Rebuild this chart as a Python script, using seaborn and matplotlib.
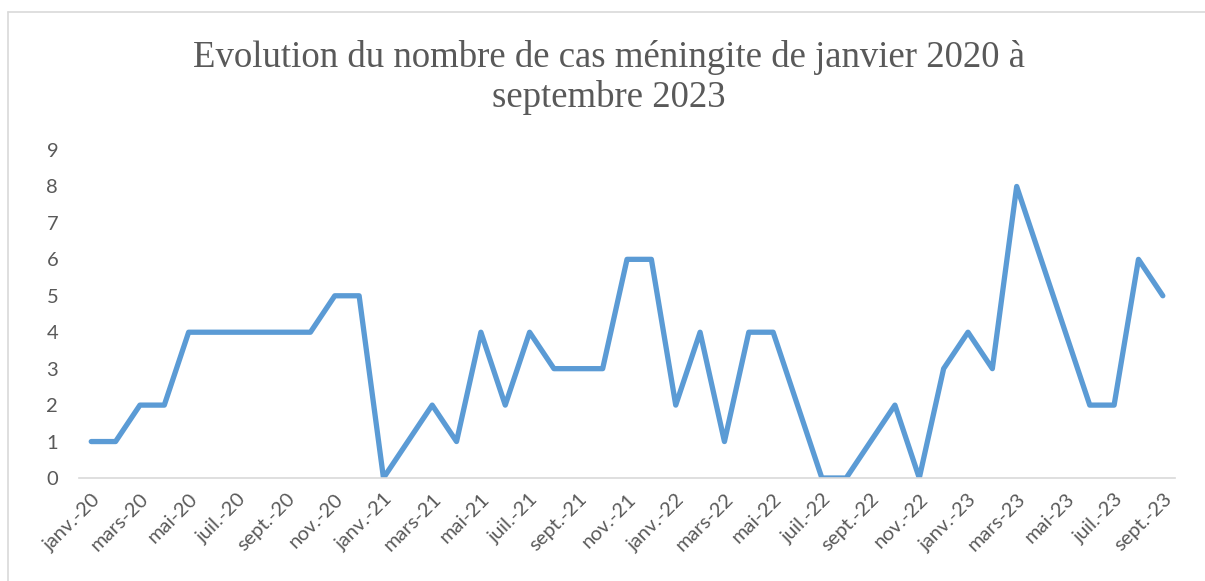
import numpy as np
import pandas as pd
import seaborn as sns
import matplotlib.pyplot as plt
from matplotlib.lines import Line2D
from matplotlib.ticker import FixedLocator

mois = ["janv.", "févr.", "mars", "avr.", "mai", "juin",
        "juil.", "août", "sept.", "oct.", "nov.", "déc."]
annees = ["20", "21", "22", "23"]
cas = [1, 1, 2, 2, 4, 4, 4, 4, 4, 4, 5, 5,
       0, 1, 2, 1, 4, 2, 4, 3, 3, 3, 6, 6,
       2, 4, 1, 4, 4, 2, 0, 0, 1, 2, 0, 3,
       4, 3, 8, 6, 4, 2, 2, 6, 5]

periodes = [m + "-" + a for a in annees for m in mois][:len(cas)]
df = pd.DataFrame({"idx": range(len(cas)), "periode": periodes, "cas": cas})

sns.set_style("white")
plt.rcParams["font.family"] = ["Lato", "DejaVu Sans"]

fig = plt.figure(figsize=(12.05, 5.81), dpi=100)
ax = fig.add_axes([0.0656, 0.1773, 0.9095, 0.5645])

sns.lineplot(data=df, x="idx", y="cas", ax=ax, color="#5B9BD5",
             linewidth=3.8, solid_joinstyle="round", solid_capstyle="round")

ax.set_xlim(-0.5, len(cas) - 0.5)
ax.set_ylim(0, 9)
ax.set_yticks(range(0, 10))
ax.set_xticks(df["idx"][::2])
ax.set_xticklabels(df["periode"][::2], rotation=45, ha="right",
                   rotation_mode="anchor")
ax.xaxis.set_minor_locator(FixedLocator(np.arange(-0.5, len(cas) - 1, 2)))
ax.tick_params(axis="x", which="major", length=0, pad=9,
               labelsize=14.5, labelcolor="#595959")
ax.tick_params(axis="x", which="minor", length=6, width=1.2,
               color="#D9D9D9", direction="out")
ax.tick_params(axis="y", length=0, pad=15, labelsize=14.5,
               labelcolor="#595959")
ax.set_xlabel("")
ax.set_ylabel("")
for s in ["top", "right", "left"]:
    ax.spines[s].set_visible(False)
ax.spines["bottom"].set_color("#D9D9D9")
ax.spines["bottom"].set_linewidth(1.2)

fig.text(0.5055, 0.867, "Evolution du nombre de cas méningite de janvier 2020 à\nseptembre 2023",
         ha="center", va="center", fontsize=26.5, color="#595959",
         family="Liberation Serif", linespacing=1.2)

# cadre du graphique
fig.add_artist(Line2D([8 / 1205, 1], [1 - 12 / 581, 1 - 12 / 581],
                      transform=fig.transFigure, color="#D9D9D9", lw=1.2))
fig.add_artist(Line2D([8 / 1205, 8 / 1205], [0, 1 - 12 / 581],
                      transform=fig.transFigure, color="#D9D9D9", lw=1.2))

fig.savefig("out.png", dpi=100)
